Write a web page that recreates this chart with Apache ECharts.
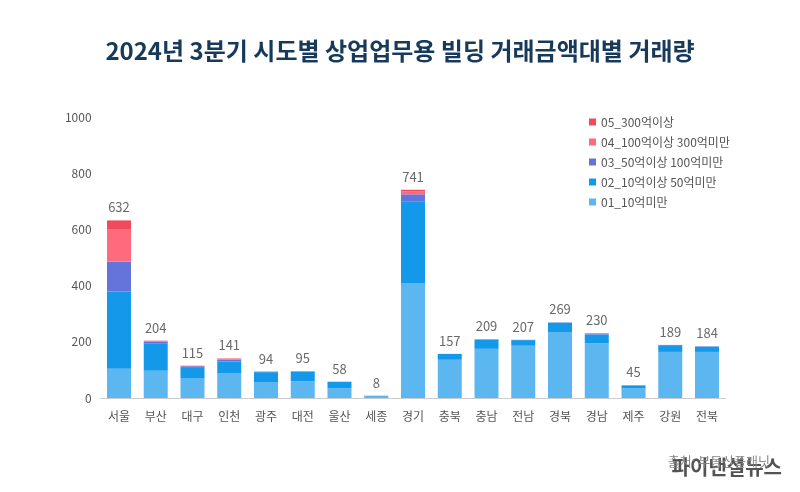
<!DOCTYPE html>
<html><head><meta charset="utf-8">
<script src="https://cdn.jsdelivr.net/npm/echarts@6/dist/echarts.min.js"></script>
<style>html,body{margin:0;padding:0;background:#fff}#c{width:800px;height:492px}</style>
</head><body><div id="c"></div>
<script>
const categories = ['서울','부산','대구','인천','광주','대전','울산','세종','경기','충북','충남','전남','경북','경남','제주','강원','전북'];
const s01 = [104, 97, 69, 89, 57, 59, 34, 5, 409, 136, 175, 186, 233, 194, 34, 164, 164];
const s02 = [275, 98, 41, 41, 35, 34, 23, 3, 291, 21, 33, 20, 35, 32, 11, 24, 19];
const s03 = [106, 5, 3, 6, 2, 2, 1, 0, 25, 0, 1, 1, 1, 4, 0, 1, 1];
const s04 = [114, 3, 1, 4, 0, 0, 0, 0, 10, 0, 0, 0, 0, 0, 0, 0, 0];
const s05 = [33, 1, 1, 1, 0, 0, 0, 0, 6, 0, 0, 0, 0, 0, 0, 0, 0];
const totals = [632, 204, 115, 141, 94, 95, 58, 8, 741, 157, 209, 207, 269, 230, 45, 189, 184];
const seriesNames = ['01_10억미만','02_10억이상 50억미만','03_50억이상 100억미만','04_100억이상 300억미만','05_300억이상'];
const yTicks = [0, 200, 400, 600, 800, 1000];
const colors = ['#5CB6F0','#1499EA','#6574DA','#FF6B7D','#F04A5C'];

const chart = echarts.init(document.getElementById('c'));
const font = '"Noto Sans CJK KR", "Noto Sans", sans-serif';
const data = [s01, s02, s03, s04, s05];
const series = data.map((d, i) => ({
  name: seriesNames[i], type: 'bar', stack: 'total', data: d, barWidth: 24,
  itemStyle: { color: colors[i] }
}));
series.push({
  name: 'total', type: 'scatter', data: totals, symbolSize: 1,
  itemStyle: { color: 'rgba(0,0,0,0)' }, silent: true,
  label: { show: true, position: 'top', distance: 6, color: '#444', fontSize: 13, fontFamily: font }
});
chart.setOption({
  animation: false,
  textStyle: { fontFamily: font },
  color: colors,
  title: {
    text: '2024년 3분기 시도별 상업업무용 빌딩 거래금액대별 거래량',
    left: 'center', top: 34,
    textStyle: { fontSize: 24, fontWeight: 'bold', color: '#173A5A', fontFamily: font }
  },
  legend: {
    data: seriesNames.slice().reverse(),
    orient: 'vertical', left: 584, top: 111, itemGap: 8,
    itemWidth: 7, itemHeight: 7, icon: 'rect',
    textStyle: { fontSize: 12, color: '#555', fontFamily: font }
  },
  grid: { left: 100.6, right: 74.6, top: 117, bottom: 94, containLabel: false },
  xAxis: {
    type: 'category', data: categories,
    axisLine: { lineStyle: { color: '#ccc' } },
    axisTick: { show: false },
    axisLabel: { color: '#555', fontSize: 12, margin: 12, fontFamily: font }
  },
  yAxis: {
    type: 'value', min: yTicks[0], max: yTicks[yTicks.length - 1], interval: 200,
    splitLine: { show: false },
    axisLine: { show: false }, axisTick: { show: false },
    axisLabel: { color: '#555', fontSize: 12, margin: 9, fontFamily: font, formatter: v => String(v) }
  },
  graphic: [
    { type: 'text', right: 18, top: 457, style: { text: '파이낸셜뉴스', fill: 'rgba(40,40,40,0.8)', font: 'bold 20px "Noto Sans CJK KR"' } },
    { type: 'text', right: 30, top: 455, style: { text: '출처: 부동산플래닛', fill: '#888', font: '13px "Noto Sans CJK KR"' } }
  ],
  series: series
});
</script>
</body></html>
